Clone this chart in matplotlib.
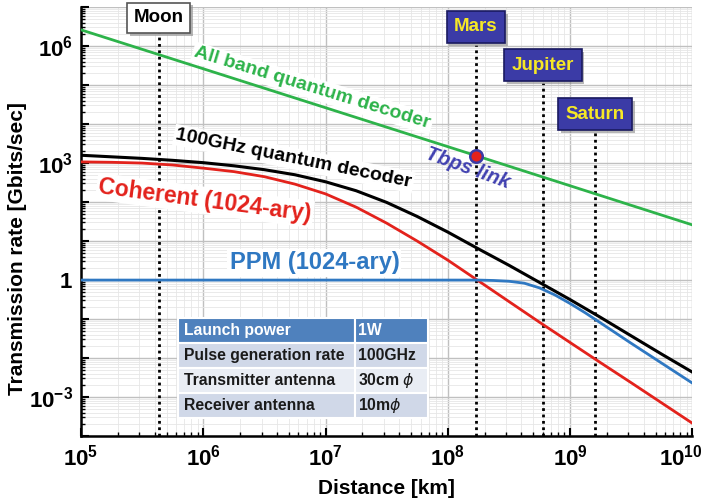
import math
import matplotlib
matplotlib.use("Agg")
import matplotlib.pyplot as plt
import matplotlib.patheffects as pe
from matplotlib.ticker import LogLocator, FuncFormatter, NullFormatter
import matplotlib.transforms as mtransforms

plt.rcParams['font.family'] = ['Liberation Sans', 'DejaVu Sans']
plt.rcParams['mathtext.fontset'] = 'custom'
plt.rcParams['mathtext.rm'] = 'Liberation Sans:bold'
plt.rcParams['mathtext.bf'] = 'Liberation Sans:bold'

# ---- data -------------------------------------------------------------
green_dist = [1e5, 1.7e8, 1e10]
green_rate = [2.6e6, 1.55e3, 26]

curve_dist = [1e5, 1.78e5, 3.16e5, 5.62e5, 1e6, 1.78e6, 3.16e6, 5.62e6,
              1e7, 1.78e7, 3.16e7, 5.62e7, 1e8, 1.78e8, 3.16e8, 5.62e8,
              1e9, 1.78e9, 3.16e9, 5.62e9, 1e10]
black_rate = [1585, 1445, 1318, 1175, 1023, 851, 676, 501,
              331, 195, 98, 42.7, 17, 6.31, 2.4, 0.871,
              0.316, 0.11, 0.0372, 0.0126, 0.00437]
red_rate = [1072, 1047, 1000, 891, 741, 603, 447, 288,
            162, 74, 28.8, 10, 3.24, 0.955, 0.282, 0.0832,
            0.0251, 0.00759, 0.00234, 0.000708, 0.000214]

ppm_dist = [1e5, 1e7, 1e8, 1.78e8, 2.37e8, 3.16e8, 4.22e8, 5.62e8, 7.5e8,
            1e9, 1.33e9, 1.78e9, 3.16e9, 5.62e9, 1e10]
ppm_rate = [1.0, 1.0, 1.0, 1.0, 0.977, 0.933, 0.832, 0.631, 0.417,
            0.251, 0.145, 0.0794, 0.024, 0.00741, 0.00229]

tbps_point = (1.7e8, 1.55e3)

planets = ["Moon", "Mars", "Jupiter", "Saturn"]
planet_dist = [4.3e5, 1.7e8, 6.0e8, 1.6e9]

table_rows = [["Launch power", "1W"],
              ["Pulse generation rate", "100GHz"],
              ["Transmitter antenna", "30cm $\\phi$"],
              ["Receiver antenna", "10m$\\phi$"]]

# ---- figure -----------------------------------------------------------
fig = plt.figure(figsize=(7.05, 5.03), dpi=100)
ax = fig.add_axes([0.115, 0.133, 0.867, 0.853])
ax.set_xscale('log')
ax.set_yscale('log')
ax.set_xlim(1e5, 1e10)
ax.set_ylim(1e-4, 1e7)

# grid
ax.xaxis.set_major_locator(LogLocator(base=10, numticks=20))
ax.xaxis.set_minor_locator(LogLocator(base=10, subs=range(2, 10), numticks=100))
ax.yaxis.set_major_locator(LogLocator(base=10, numticks=20))
ax.yaxis.set_minor_locator(LogLocator(base=10, subs=range(2, 10), numticks=100))
ax.grid(which='major', color='#c0c0c0', lw=1.0, zorder=0)
ax.grid(which='minor', color='#e6e6e6', lw=0.6, zorder=0)
ax.set_axisbelow(True)


def yfmt(v, pos):
    e = int(round(math.log10(v)))
    if e % 3 != 0:
        return ''
    if e == 0:
        return r'$\mathbf{1}$'
    return r'$\mathbf{10^{%d}}$' % e


def xfmt(v, pos):
    e = int(round(math.log10(v)))
    if e >= 10:
        return ''  # drawn separately, nudged inwards
    return r'$\mathbf{10^{%d}}$' % e


ax.xaxis.set_major_formatter(FuncFormatter(xfmt))
ax.yaxis.set_major_formatter(FuncFormatter(yfmt))
ax.xaxis.set_minor_formatter(NullFormatter())
ax.yaxis.set_minor_formatter(NullFormatter())
ax.tick_params(axis='both', which='major', labelsize=16, direction='in',
               length=6, width=1.5, pad=6)
ax.tick_params(axis='both', which='minor', direction='in', length=3, width=1.0)

xt = mtransforms.blended_transform_factory(ax.transData, ax.transAxes)
ax.annotate(r'$\mathbf{10^{10}}$', xy=(1e10, 0), xycoords=xt,
            xytext=(-8, -6), textcoords='offset points', ha='center', va='top',
            fontsize=16, annotation_clip=False)

for s in ['top', 'right']:
    ax.spines[s].set_visible(False)
for s in ['left', 'bottom']:
    ax.spines[s].set_linewidth(1.8)

ax.set_xlabel('Distance [km]', fontsize=15, fontweight='bold', labelpad=6)
ax.set_ylabel('Transmission rate [Gbits/sec]', fontsize=15, fontweight='bold')
ax.yaxis.set_label_coords(-0.088, 0.436)

# planet distance markers
label_y = [0.975, 0.954, 0.864, 0.750]
line_top = [0.94, 0.912, 0.823, 0.708]
for name, d, ly, lt in zip(planets, planet_dist, label_y, line_top):
    ax.plot([d, d], [0, lt], transform=xt, color='black', lw=2.0,
            linestyle=(0, (1, 1.3)), zorder=1)
    if name == "Moon":
        box = dict(boxstyle='square,pad=0.35', fc='white', ec='#555555', lw=1.2)
        color = 'black'
    else:
        box = dict(boxstyle='square,pad=0.4', fc='#3b3ba6', ec='#1a1a60', lw=1.2)
        color = '#f6e826'
    t = ax.text(d, ly, name, transform=xt, ha='center', va='center',
                fontsize=13.5, fontweight='bold', color=color, bbox=box, zorder=5)
    t.get_bbox_patch().set_path_effects([pe.SimplePatchShadow(offset=(2, -2),
                                          shadow_rgbFace='#888888', alpha=0.6),
                                         pe.Normal()])

# curves
ax.plot(green_dist, green_rate, color='#2db34a', lw=2.0, zorder=4)
ax.plot(curve_dist, black_rate, color='black', lw=2.2, zorder=4)
ax.plot(curve_dist, red_rate, color='#e3221c', lw=2.0, zorder=4)
ax.plot(ppm_dist, ppm_rate, color='#2f78c2', lw=2.0, zorder=4)
ax.plot(*tbps_point, 'o', ms=9, mfc='#e3221c', mec='#3b3ba6', mew=1.8, zorder=6)

# curve labels
wb = dict(fc='white', ec='none', pad=1.5)
ax.text(7.8e6, 8.3e4, 'All band quantum decoder', color='#2db34a', fontsize=14,
        fontweight='bold', rotation=-17, ha='center', va='center', bbox=wb,
        zorder=3, rotation_mode='anchor')
ax.text(5.5e6, 1300, '100GHz quantum decoder', color='black', fontsize=14,
        fontweight='bold', rotation=-11.5, ha='center', va='center', bbox=wb,
        zorder=3, rotation_mode='anchor')
ax.text(1.03e6, 110, 'Coherent (1024-ary)', color='#e3221c', fontsize=16.5,
        fontweight='bold', rotation=-7.5, ha='center', va='center', bbox=wb,
        zorder=3, rotation_mode='anchor')
ax.text(8.1e6, 2.75, 'PPM (1024-ary)', color='#2f78c2', fontsize=17,
        fontweight='bold', ha='center', va='center', bbox=wb, zorder=3)
ax.text(1.46e8, 720, 'Tbps link', color='#4040b0', fontsize=14.5,
        fontweight='bold', style='italic', rotation=-20, ha='center', va='center',
        zorder=5, rotation_mode='anchor')

# parameter table
tbl = ax.table(cellText=table_rows, colWidths=[0.708, 0.292], cellLoc='left',
               bbox=[0.159, 0.042, 0.409, 0.233], zorder=5)
tbl.auto_set_font_size(False)
row_colors = ['#4f81bd', '#d0d8e8', '#e9edf4', '#d0d8e8']
for (r, c), cell in tbl.get_celld().items():
    cell.set_facecolor(row_colors[r])
    cell.set_edgecolor('white')
    cell.set_linewidth(1.5)
    cell.PAD = 0.035
    txt = cell.get_text()
    txt.set_fontsize(11.3)
    txt.set_fontweight('bold')
    txt.set_color('white' if r == 0 else '#1a1a1a')

fig.savefig('out.png', dpi=100)
